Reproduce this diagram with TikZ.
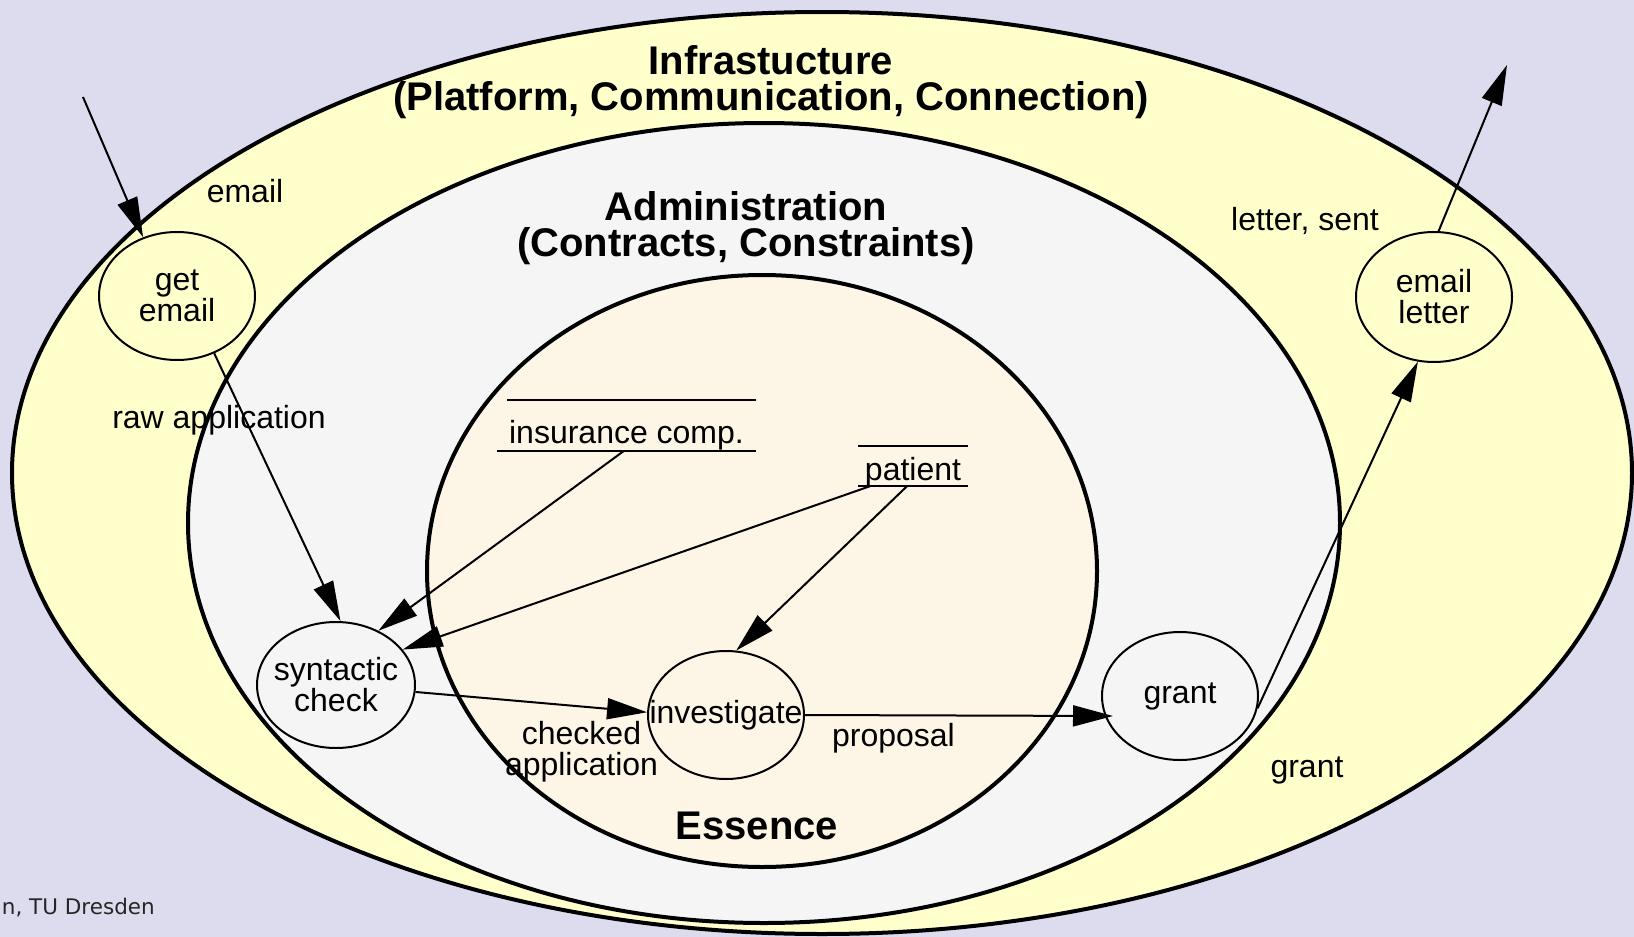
\documentclass[tikz,border=0pt]{standalone}
\usepackage{fontspec}
\setmainfont{Liberation Sans}
\newfontfamily\footfont{DejaVu Sans}
\usetikzlibrary{shapes.geometric,arrows.meta,calc}
\definecolor{bgc}{RGB}{220,220,238}
\definecolor{infc}{RGB}{255,255,204}
\definecolor{admc}{RGB}{245,245,245}
\definecolor{essc}{RGB}{253,245,230}
\begin{document}
\begin{tikzpicture}[x=1pt,y=-1pt,
  proc/.style={ellipse,draw,line width=2pt,inner xsep=-25pt,inner ysep=0pt,minimum width=156pt,minimum height=128pt,align=center,font=\fontsize{32}{31}\selectfont},
  lbl/.style={align=center,inner sep=0pt,font=\fontsize{32}{31}\selectfont},
  ttl/.style={align=center,inner sep=0pt,font=\bfseries\fontsize{40}{35.5}\selectfont},
  flow/.style={line width=2pt,-{Triangle[length=40pt,width=21pt]}},
  ring/.style={line width=4pt},
  storeline/.style={line width=2.5pt},
  store/.style={inner sep=0pt,font=\fontsize{32}{31}\selectfont}]
\useasboundingbox (0,0) rectangle (1634,937);
\clip (0,0) rectangle (1634,937);
\fill[bgc] (0,0) rectangle (1634,937);
% rings
\draw[ring,fill=infc] (822,473) ellipse [x radius=810pt, y radius=461pt];
\draw[ring,fill=admc] (764,523) ellipse [x radius=576pt, y radius=400pt];
\draw[ring,fill=essc] (762,571) ellipse [x radius=335pt, y radius=296pt];
% titles
\node[ttl] (tinf) at (771,82) {Infrastucture\\(Platform, Communication, Connection)};
\node[ttl] (tadm) at (746,228) {Administration\\(Contracts, Constraints)};
\node[ttl] (tess) at (757,826) {Essence};
% processes
\node[proc] (getemail) at (177,296) {get\\email};
\node[proc,minimum height=130pt] (emailletter) at (1434,297) {email\\letter};
\node[proc,minimum width=158pt,minimum height=126pt] (syn) at (336,685) {syntactic\\check};
\node[proc] (inv) at (726,715) {investigate};
\node[proc] (grant) at (1180,696) {grant};
% stores
\node[store,text height=43pt,text depth=8pt,minimum width=259pt] (ins) at (626.5,425.5) {insurance comp.};
\node[store,text height=34pt,text depth=6pt,minimum width=110pt] (pat) at (913,466) {patient};
\draw[storeline] ([xshift=10pt]ins.north west) -- (ins.north east);
\draw[storeline] (ins.south west) -- (ins.south east);
\draw[storeline] (pat.north west) -- (pat.north east);
\draw[storeline] (pat.south west) -- (pat.south east);
% free ends
\coordinate (inA) at (83,97);
\coordinate (outA) at (1507,65);
% flows
\draw[flow] (inA) -- (getemail.120);
\draw[flow] (getemail.-57) -- (syn.86);
\draw[flow] ([xshift=-3pt]ins.south) -- (syn.52);
\draw[flow] ([xshift=-43pt]pat.south) -- (syn.28);
\draw[flow] ([xshift=-6pt]pat.south) -- (inv.81);
\draw[flow] (syn.-5) -- (inv.178);
\draw[flow] (inv.0) -- ($(grant.center)+(-67,20)$);
\draw[flow] (grant.-9) -- (emailletter.-104);
\draw[flow] (emailletter.86) -- (outA);
% labels
\node[lbl] (lemail) at (245,191) {email};
\node[lbl] (lraw) at (219,420) {raw application};
\node[lbl] (lletter) at (1305,221) {letter, sent};
\node[lbl] (lchecked) at (581.5,752) {checked\\application};
\node[lbl] (lprop) at (893.5,738) {proposal};
\node[lbl] (lgrant) at (1307,770) {grant};
% footer
\node[anchor=base east,inner sep=0pt,font=\footfont\fontsize{21.5}{24}\selectfont,text=black!85] (foot) at (155,914) {n, TU Dresden};
\end{tikzpicture}
\end{document}
